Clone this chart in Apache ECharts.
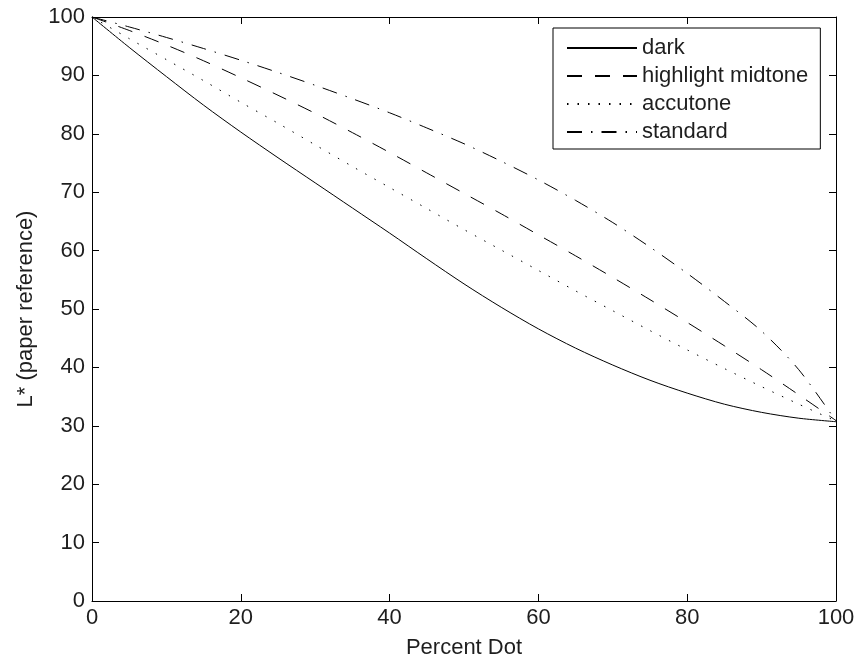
<!DOCTYPE html>
<html>
<head>
<meta charset="utf-8">
<script src="https://cdn.jsdelivr.net/npm/echarts@6/dist/echarts.min.js"></script>
<style>html,body{margin:0;padding:0;background:#fff}#c{width:863px;height:664px}</style>
</head>
<body>
<div id="c"></div>
<script>
var percentDot = [0,5,10,15,20,25,30,35,40,45,50,55,60,65,70,75,80,85,90,95,100];
var dark = [100,94.8,89.8,84.9,80.3,75.9,71.6,67.3,63,58.6,54.3,50.3,46.6,43.3,40.4,37.8,35.6,33.7,32.3,31.3,30.7];
var highlightMidtone = [100,97.7,95.2,92.5,89.6,86.6,83.5,80.2,76.8,73.3,69.8,66.3,62.7,59.1,55.4,51.6,47.7,43.7,39.6,35.3,30.9];
var accutone = [100,96.3,92.7,89.1,85.4,81.8,78.1,74.4,70.8,67.2,63.6,60.1,56.6,53.1,49.7,46.3,43,39.8,36.7,33.7,30.8];
var standard = [100,98.3,96.5,94.6,92.6,90.5,88.3,86,83.6,81,78.3,75.3,72.1,68.6,64.8,60.6,56.1,51.3,46.2,39.6,30.8];
var seriesNames = ['dark','highlight midtone','accutone','standard'];
var xTicks = [0,20,40,60,80,100];
var yTicks = [0,10,20,30,40,50,60,70,80,90,100];

function pairs(ys){ return percentDot.map(function(x,i){ return [x, ys[i]]; }); }

var FONT = 'Liberation Sans, Arial, Helvetica, sans-serif';
var TXT = '#1e1e1e';
var dashTypes = ['solid', [15,13], [1.5,9], [15,9,1.5,9]];
var dataSets = [dark, highlightMidtone, accutone, standard];

var chart = echarts.init(document.getElementById('c'), null, {renderer:'canvas'});
function axisBase(extra){
  var o = {
    type:'value', min:0, max:100,
    axisLine:{show:true, onZero:false, lineStyle:{color:'#000', width:1}},
    axisTick:{show:true, inside:true, length:7, lineStyle:{color:'#000', width:1}},
    splitLine:{show:false}
  };
  for (var k in extra) o[k] = extra[k];
  return o;
}
chart.setOption({
  animation:false,
  backgroundColor:'#fff',
  grid:{left:92, right:27, top:17, bottom:61, containLabel:false},
  legend:{
    orient:'vertical', left:553, top:28,
    data:seriesNames,
    itemWidth:70, itemHeight:14, itemGap:6,
    padding:[9,12,6,13],
    borderColor:'#000', borderWidth:1,
    backgroundColor:'#fff',
    itemStyle:{color:'rgba(0,0,0,0)', borderWidth:0, opacity:0},
    textStyle:{fontFamily:FONT, fontSize:22, color:TXT}
  },
  xAxis:[
    axisBase({interval:20, position:'bottom',
      name:'Percent Dot', nameLocation:'middle', nameGap:36,
      nameTextStyle:{fontFamily:FONT, fontSize:22, color:TXT},
      axisLabel:{fontFamily:FONT, fontSize:22, color:TXT, margin:6,
        formatter:function(v){ return xTicks.indexOf(v)>=0 ? String(v) : ''; }}}),
    axisBase({interval:20, position:'top', axisLabel:{show:false}})
  ],
  yAxis:[
    axisBase({interval:10, position:'left',
      name:'L* (paper reference)', nameLocation:'middle', nameGap:54,
      nameTextStyle:{fontFamily:FONT, fontSize:22, color:TXT},
      axisLabel:{fontFamily:FONT, fontSize:22, color:TXT, margin:7,
        formatter:function(v){ return yTicks.indexOf(v)>=0 ? String(v) : ''; }}}),
    axisBase({interval:10, position:'right', axisLabel:{show:false}})
  ],
  series: seriesNames.map(function(n,i){
    return {
      name:n, type:'line', data:pairs(dataSets[i]),
      xAxisIndex:0, yAxisIndex:0,
      showSymbol:false, symbol:'none', smooth:0.3,
      lineStyle:{color:'#000', width:1, type:dashTypes[i]},
      itemStyle:{color:'#000'},
      emphasis:{disabled:true}
    };
  })
});
</script>
</body>
</html>
